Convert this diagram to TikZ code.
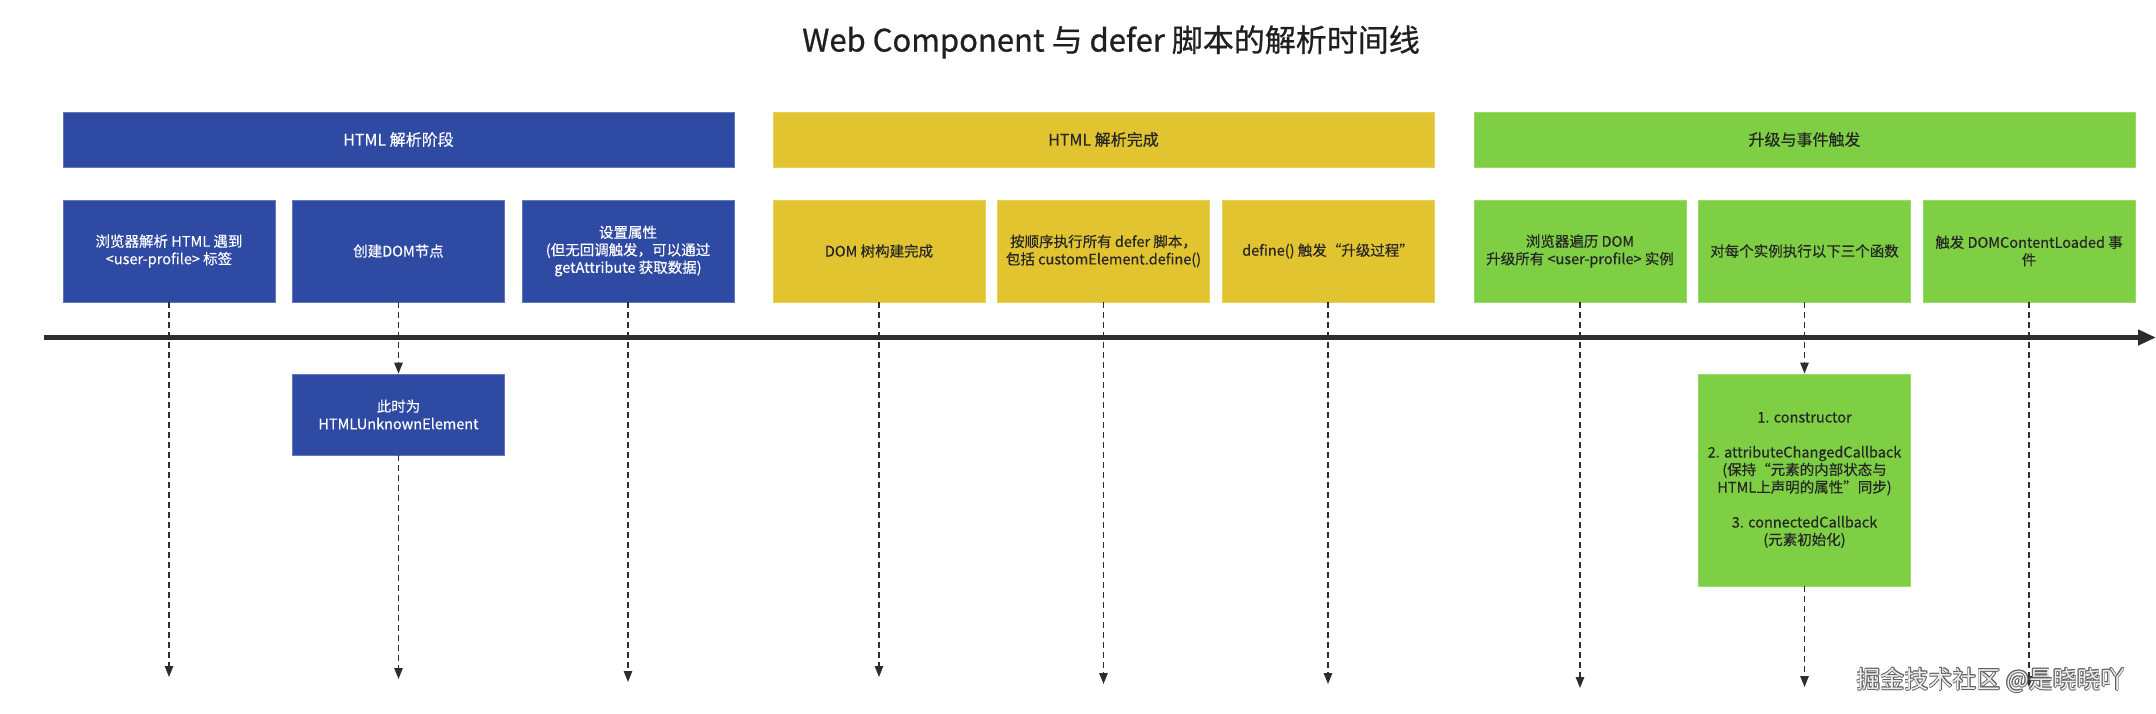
\documentclass[tikz,border=0pt]{standalone}
\usepackage{fontspec}
\setmainfont{Noto Sans CJK SC}[FakeBold=0.35]
\newfontfamily\titlefont{Noto Sans CJK SC}[FakeBold=0.7]
\newfontfamily\sigfont{Noto Sans CJK SC}
\usetikzlibrary{arrows.meta}
\definecolor{cblue}{RGB}{47,74,163}
\definecolor{cyellow}{RGB}{226,196,48}
\definecolor{cgreen}{RGB}{126,207,68}
\definecolor{cline}{RGB}{45,45,45}
\definecolor{csig}{RGB}{95,95,95}
\definecolor{csigfill}{RGB}{238,238,238}
\begin{document}
\begin{tikzpicture}[x=1pt,y=-1pt,
  hdr/.style={rectangle, inner sep=0pt, minimum height=55pt, align=center,
    font=\fontsize{16}{19}\selectfont},
  stepbox/.style={rectangle, inner sep=0pt, minimum width=212pt, minimum height=102pt,
    align=center, font=\fontsize{14.5}{17.5}\selectfont},
  blueb/.style={fill=cblue, draw=cblue!75!white, line width=0.8pt, text=white},
  yellowb/.style={fill=cyellow, draw=cyellow!80!white, line width=0.8pt, text=black!85},
  greenb/.style={fill=cgreen, draw=cgreen!80!white, line width=0.8pt, text=black!85},
  dasharrow/.style={draw=cline, line width=1.3pt, dash pattern=on 6pt off 4pt,
    -{Triangle[length=11pt,width=8.5pt]}},
  timeline/.style={draw=cline, line width=4.5pt, -{Triangle[length=18pt,width=15pt]}},
  sigtext/.style={font=\sigfont\fontsize{24}{28}\selectfont, inner sep=0pt},
  sigstroke/.style={sigtext, text=csig}
]
\useasboundingbox (0,0) rectangle (2156,714);

\node[font=\titlefont\fontsize{31}{36}\selectfont, text=black!88] (title) at (1111,42) {Web Component 与 defer 脚本的解析时间线};

% headers
\node[hdr, blueb, minimum width=671pt] (h1) at (398.5,139.5) {HTML 解析阶段};
\node[hdr, yellowb, minimum width=661pt] (h2) at (1103.5,139.5) {HTML 解析完成};
\node[hdr, greenb, minimum width=661pt] (h3) at (1804.5,139.5) {升级与事件触发};

% step boxes
\node[stepbox, blueb] (b1) at (169,251) {浏览器解析 HTML 遇到\\<user-profile> 标签};
\node[stepbox, blueb] (b2) at (398.5,251) {创建DOM节点};
\node[stepbox, blueb] (b3) at (628,251) {设置属性\\(但无回调触发，可以通过\\getAttribute 获取数据)};
\node[stepbox, yellowb] (y1) at (879,251) {DOM 树构建完成};
\node[stepbox, yellowb] (y2) at (1103.5,251) {按顺序执行所有 defer 脚本，\\包括 customElement.define()};
\node[stepbox, yellowb] (y3) at (1328,251) {define() 触发“升级过程”};
\node[stepbox, greenb] (g1) at (1580,251) {浏览器遍历 DOM\\升级所有 <user-profile> 实例};
\node[stepbox, greenb] (g2) at (1804.5,251) {对每个实例执行以下三个函数};
\node[stepbox, greenb] (g3) at (2029,251) {触发 DOMContentLoaded 事\\件};

% sub boxes
\node[stepbox, blueb, minimum height=81pt] (b2s) at (398.5,414.5) {此时为\\HTMLUnknownElement};
\node[stepbox, greenb, minimum height=212pt] (g2s) at (1804.5,480) {1. constructor\\[17.5pt]2. attributeChangedCallback\\(保持“元素的内部状态与\\HTML上声明的属性”同步)\\[17.5pt]3. connectedCallback\\(元素初始化)};

% timeline
\coordinate (tl0) at (44,337.5);
\coordinate (tl1) at (2156,337.5);
\draw[timeline] (tl0) -- (tl1);

% end points
\coordinate (e1) at (169,677);
\coordinate (e2) at (398.5,679);
\coordinate (e3) at (628,682);
\coordinate (e4) at (879,677);
\coordinate (e5) at (1103.5,684);
\coordinate (e6) at (1328,684);
\coordinate (e7) at (1580,688);
\coordinate (e8) at (1804.5,687);
\coordinate (e9) at (2029,687);

\draw[dasharrow] (b1.south) -- (e1);
\draw[dasharrow] (b2.south) -- (b2s.north);
\draw[dasharrow] (b2s.south) -- (e2);
\draw[dasharrow] (b3.south) -- (e3);
\draw[dasharrow] (y1.south) -- (e4);
\draw[dasharrow] (y2.south) -- (e5);
\draw[dasharrow] (y3.south) -- (e6);
\draw[dasharrow] (g1.south) -- (e7);
\draw[dasharrow] (g2.south) -- (g2s.north);
\draw[dasharrow] (g2s.south) -- (e8);
\draw[dasharrow] (g3.south) -- (e9);

% signature (outlined text)
\node[sigstroke] (sigA) at (1990.1,680) {掘金技术社区 @是晓晓吖};
\node[sigstroke] (sigB) at (1991.9,680) {掘金技术社区 @是晓晓吖};
\node[sigstroke] (sigC) at (1991,679.1) {掘金技术社区 @是晓晓吖};
\node[sigstroke] (sigD) at (1991,680.9) {掘金技术社区 @是晓晓吖};
\node[sigstroke] (sigE) at (1990.3,679.3) {掘金技术社区 @是晓晓吖};
\node[sigstroke] (sigF) at (1991.7,680.7) {掘金技术社区 @是晓晓吖};
\node[sigstroke] (sigG) at (1990.3,680.7) {掘金技术社区 @是晓晓吖};
\node[sigstroke] (sigH) at (1991.7,679.3) {掘金技术社区 @是晓晓吖};
\node[sigtext, text=csigfill] (sig) at (1991,680) {掘金技术社区 @是晓晓吖};
\end{tikzpicture}
\end{document}
